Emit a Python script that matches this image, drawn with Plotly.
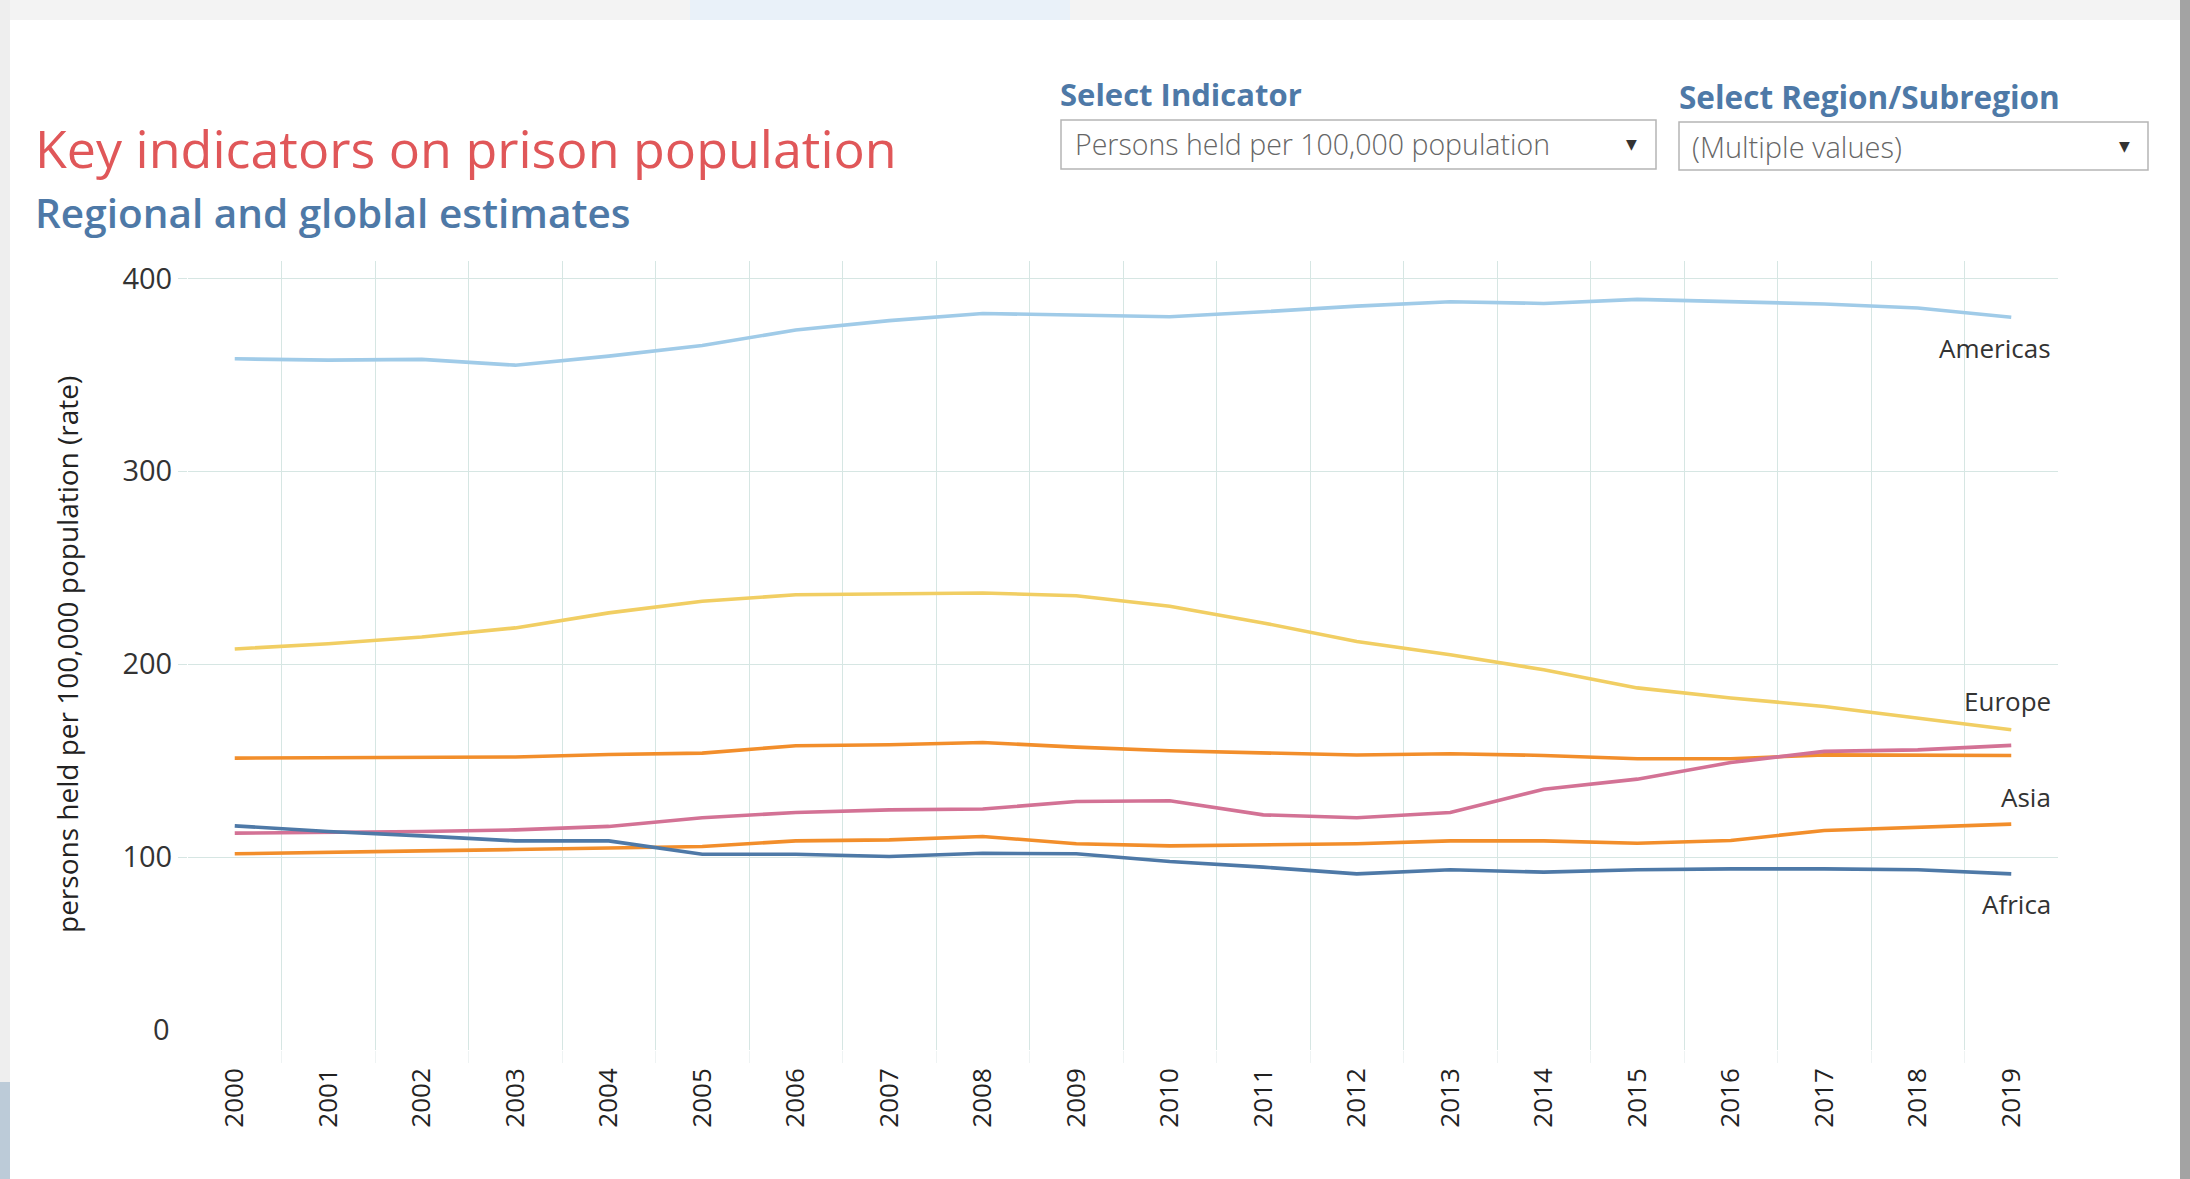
import plotly.graph_objects as go

# ---------------- data ----------------
years = list(range(2000, 2020))
year_labels = [str(y) for y in years]

americas = [358.3, 357.6, 358.0, 355.0, 359.7, 365.2, 373.2, 378.1, 381.8, 380.8,
            380.1, 382.7, 385.6, 387.9, 387.0, 389.1, 388.1, 386.7, 384.6, 379.8]
europe = [207.9, 210.6, 214.1, 218.8, 226.6, 232.6, 236.0, 236.6, 236.9, 235.5,
          230.0, 221.4, 211.8, 204.9, 197.1, 187.7, 182.5, 178.1, 172.1, 166.0]
world = [151.3, 151.4, 151.6, 151.9, 153.2, 153.9, 157.7, 158.2, 159.4, 157.0,
         155.1, 154.1, 152.9, 153.6, 152.7, 151.0, 151.0, 153.0, 153.0, 152.7]
oceania = [101.7, 102.6, 103.2, 103.9, 104.6, 105.5, 108.4, 108.9, 110.7, 106.9,
           105.8, 106.4, 106.9, 108.4, 108.4, 107.2, 108.6, 113.8, 115.5, 117.1]
asia = [112.4, 112.8, 113.3, 114.1, 115.9, 120.4, 123.1, 124.5, 124.9, 128.8,
        129.2, 121.9, 120.4, 123.1, 135.2, 140.4, 149.0, 154.8, 155.6, 157.9]
africa = [116.2, 113.3, 111.0, 108.4, 108.4, 101.5, 101.5, 100.3, 102.0, 101.7,
          97.7, 94.8, 91.3, 93.4, 92.2, 93.4, 93.9, 93.9, 93.4, 91.3]

y_ticks = [100, 200, 300, 400]

series = [
    ("Americas", americas, "#a0cbe8"),
    ("Europe", europe, "#f1ce63"),
    ("World", world, "#f28e2b"),
    ("Oceania", oceania, "#f28e2b"),
    ("Asia", asia, "#d37295"),
    ("Africa", africa, "#4e79a7"),
]
labelled = {"Americas": (42, -31), "Europe": (42, 29), "Asia": (42, -52), "Africa": (42, -30)}

# ---------------- layout geometry ----------------
W, H = 2190, 1179
L, R, T, B = 188, 132, 261, 129
PW, PH = W - L - R, H - T - B


def px(x):
    return (x - L) / PW


def py(y):
    return (H - B - y) / PH


FONT = "Open Sans"
GRID = "#d6e6e3"

fig = go.Figure()
for name, vals, color in series:
    fig.add_trace(go.Scatter(
        x=years, y=vals, name=name, mode="lines",
        line=dict(color=color, width=3.6), showlegend=False,
    ))

annotations = []
for name, vals, color in series:
    if name in labelled:
        xs, ys = labelled[name]
        annotations.append(dict(
            x=years[-1], y=vals[-1], xref="x", yref="y", text=name, showarrow=False,
            xanchor="right", yanchor="middle", xshift=xs, yshift=ys,
            font=dict(family=FONT, size=26, color="#333333")))

# "0" tick label, lifted inside the pane as in the original
annotations.append(dict(x=0, y=0, xref="paper", yref="y", text="0", showarrow=False,
                        xanchor="right", yanchor="middle", xshift=-16, yshift=22,
                        font=dict(family=FONT, size=29, color="#333333")))

# axis title
annotations.append(dict(x=px(67), y=py(655), xref="paper", yref="paper", textangle=-90,
                        text="persons held per 100,000 population (rate)", showarrow=False,
                        xanchor="center", yanchor="middle",
                        font=dict(family=FONT, size=28, color="#222222")))

# titles
annotations += [
    dict(x=px(33), y=py(147), xref="paper", yref="paper", text="Key indicators on prison population",
         showarrow=False, xanchor="left", yanchor="middle",
         font=dict(family=FONT, size=52, color="#e05759")),
    dict(x=px(33), y=py(213), xref="paper", yref="paper", text="Regional and globlal estimates",
         showarrow=False, xanchor="left", yanchor="middle",
         font=dict(family=FONT, size=40.5, color="#4e79a7", weight=600)),
    dict(x=px(1058), y=py(94), xref="paper", yref="paper", text="<b>Select Indicator</b>",
         showarrow=False, xanchor="left", yanchor="middle",
         font=dict(family=FONT, size=31, color="#4e79a7")),
    dict(x=px(1677), y=py(96), xref="paper", yref="paper", text="<b>Select Region/Subregion</b>",
         showarrow=False, xanchor="left", yanchor="middle",
         font=dict(family=FONT, size=31.5, color="#4e79a7")),
    dict(x=px(1073), y=py(144), xref="paper", yref="paper", text="Persons held per 100,000 population",
         showarrow=False, xanchor="left", yanchor="middle",
         font=dict(family=FONT, size=28.5, color="#666666", weight=300)),
    dict(x=px(1631), y=py(144), xref="paper", yref="paper", text="▼",
         showarrow=False, xanchor="center", yanchor="middle",
         font=dict(family="DejaVu Sans", size=14, color="#333333")),
    dict(x=px(1690), y=py(146), xref="paper", yref="paper", text="(Multiple values)",
         showarrow=False, xanchor="left", yanchor="middle",
         font=dict(family=FONT, size=29, color="#666666", weight=300)),
    dict(x=px(2124), y=py(146), xref="paper", yref="paper", text="▼",
         showarrow=False, xanchor="center", yanchor="middle",
         font=dict(family="DejaVu Sans", size=14, color="#333333")),
]

shapes = [
    # page frame pieces around the white panel
    dict(type="rect", xref="paper", yref="paper", x0=px(0), x1=px(W), y0=py(20), y1=py(0),
         fillcolor="#f3f3f3", line=dict(width=0), layer="below"),
    dict(type="rect", xref="paper", yref="paper", x0=px(690), x1=px(1070), y0=py(20), y1=py(0),
         fillcolor="#e9f1f9", line=dict(width=0), layer="below"),
    dict(type="rect", xref="paper", yref="paper", x0=px(0), x1=px(10), y0=py(H), y1=py(0),
         fillcolor="#eeeeee", line=dict(width=0), layer="below"),
    dict(type="rect", xref="paper", yref="paper", x0=px(0), x1=px(10), y0=py(H), y1=py(1082),
         fillcolor="#bccbd8", line=dict(width=0), layer="below"),
    dict(type="rect", xref="paper", yref="paper", x0=px(2180), x1=px(W), y0=py(H), y1=py(0),
         fillcolor="#a3a3a3", line=dict(width=0), layer="below"),
    # dropdown boxes
    dict(type="rect", xref="paper", yref="paper", x0=px(1061), x1=px(1656), y0=py(169), y1=py(120),
         fillcolor="white", line=dict(color="#b5b5b5", width=1.5), layer="below"),
    dict(type="rect", xref="paper", yref="paper", x0=px(1679), x1=px(2148), y0=py(170), y1=py(122),
         fillcolor="white", line=dict(color="#b5b5b5", width=1.5), layer="below"),
]

fig.update_layout(
    width=W, height=H,
    margin=dict(l=L, r=R, t=T, b=B, pad=0),
    paper_bgcolor="white", plot_bgcolor="white",
    font=dict(family=FONT, color="#333333"),
    annotations=annotations, shapes=shapes,
    xaxis=dict(
        range=[years[0] - 0.5, years[-1] + 0.5],
        tickmode="array", tickvals=years, ticktext=year_labels,
        tickangle=-90, tickfont=dict(family=FONT, size=26, color="#222222"),
        showgrid=False, zeroline=False, showline=False, ticks="",
        ticklabelstandoff=12,
        minor=dict(tickmode="array", tickvals=[y + 0.5 for y in years[:-1]],
                   showgrid=True, gridcolor=GRID, gridwidth=1.3,
                   ticks="outside", ticklen=12, tickcolor="#eef3f3"),
    ),
    yaxis=dict(
        range=[0, 409],
        tickmode="array", tickvals=y_ticks,
        tickfont=dict(family=FONT, size=29, color="#333333"),
        showgrid=True, gridcolor=GRID, gridwidth=1.3,
        zeroline=False, showline=False,
        ticks="outside", ticklen=9, tickcolor=GRID,
    ),
)

fig.write_html("out.html", config={"displayModeBar": False},
               post_script="document.body.style.margin='0';document.body.style.overflow='hidden';")
